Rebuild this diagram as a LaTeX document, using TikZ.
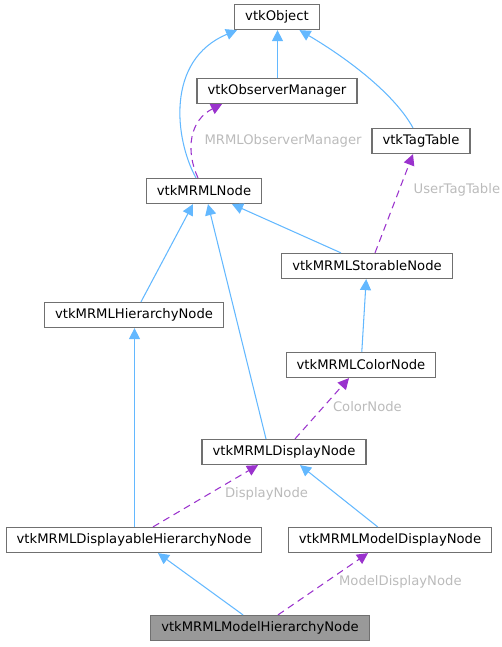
\documentclass[tikz,border=0pt]{standalone}
\usepackage{fontspec}
\setmainfont{DejaVu Sans}
\usetikzlibrary{arrows.meta}
\definecolor{inheritblue}{HTML}{63B8FF}
\definecolor{usepurple}{HTML}{9A32CD}
\definecolor{labelgray}{HTML}{BBBBBB}
\definecolor{boxgray}{HTML}{707070}
\begin{document}
\begin{tikzpicture}[x=0.02cm, y=-0.02cm,
	cls/.style={draw=boxgray, fill=white, line width=0.7pt, inner xsep=0.21cm,
		inner ysep=0pt, minimum height=0.5cm, font=\fontsize{7.5}{9}\selectfont},
	inh/.style={draw=inheritblue, line width=0.6pt,
		-{Triangle[length=0.22cm, width=0.22cm]}},
	uses/.style={draw=usepurple, line width=0.6pt, dash pattern=on 4pt off 2.8pt,
		-{Triangle[length=0.22cm, width=0.22cm]}, text=labelgray},
	elabel/.style={anchor=west, font=\fontsize{7.5}{9}\selectfont, text=labelgray},
	]
	\useasboundingbox (0,0) rectangle (502,647);

	\node[cls] (obj) at (277,17) {vtkObject};
	\node[cls] (om) at (277,91) {vtkObserverManager};
	\node[cls] (tag) at (421,141) {vtkTagTable};
	\node[cls] (mrml) at (204,191) {vtkMRMLNode};
	\node[cls] (stor) at (367,266) {vtkMRMLStorableNode};
	\node[cls] (hier) at (134,315) {vtkMRMLHierarchyNode};
	\node[cls] (color) at (361,365) {vtkMRMLColorNode};
	\node[cls] (disp) at (284,452) {vtkMRMLDisplayNode};
	\node[cls] (dhier) at (134,540) {vtkMRMLDisplayableHierarchyNode};
	\node[cls] (mdisp) at (390,540) {vtkMRMLModelDisplayNode};
	\node[cls, fill=black!40] (mhier) at (260,628) {vtkMRMLModelHierarchyNode};

	% inheritance
	\draw[inh] ([xshift=0.01cm]om.north) -- ([xshift=0.01cm]obj.south);
	\draw[inh] ([xshift=-0.16cm]mrml.north) .. controls (175,140) and (165,60) .. ([xshift=-0.8cm]obj.south);
	\draw[inh] ([xshift=-0.16cm]tag.north) .. controls (395,95) and (350,60) .. ([xshift=0.45cm]obj.south);
	\draw[inh] (hier) -- ([xshift=-0.22cm]mrml.south);
	\draw[inh] ([xshift=-0.36cm]disp.north) -- ([xshift=0.08cm]mrml.south);
	\draw[inh] ([xshift=-0.52cm]stor.north) -- ([xshift=0.56cm]mrml.south);
	\draw[inh] (color) -- (stor);
	\draw[inh] ([xshift=0.01cm]dhier.north) -- ([xshift=0.01cm]hier.south);
	\draw[inh] ([xshift=1.8cm]mdisp.north west) -- ([xshift=0.32cm]disp.south);
	\draw[inh] ([xshift=-0.34cm]mhier.north) -- ([xshift=0.48cm]dhier.south);

	% usage
	\draw[uses] ([xshift=-0.12cm]mrml.north) .. controls (185,150) and (190,120)
		.. node[elabel, pos=0.45, xshift=0.12cm] {MRMLObserverManager} ([xshift=-1.1cm]om.south);
	\draw[uses] ([xshift=0.16cm]stor.north) -- node[elabel, pos=0.64, xshift=0.16cm] {UserTagTable} ([xshift=-0.16cm]tag.south);
	\draw[uses] ([xshift=0.22cm]disp.north) -- node[elabel, pos=0.53, xshift=0.06cm] {ColorNode} ([xshift=-0.24cm]color.south);
	\draw[uses] ([xshift=0.38cm]dhier.north) -- node[elabel, pos=0.53, xshift=0.2cm] {DisplayNode} ([xshift=-0.52cm]disp.south);
	\draw[uses] ([xshift=0.36cm]mhier.north) -- node[elabel, pos=0.53, xshift=0.14cm] {ModelDisplayNode} ([xshift=-0.44cm]mdisp.south);
\end{tikzpicture}
\end{document}
